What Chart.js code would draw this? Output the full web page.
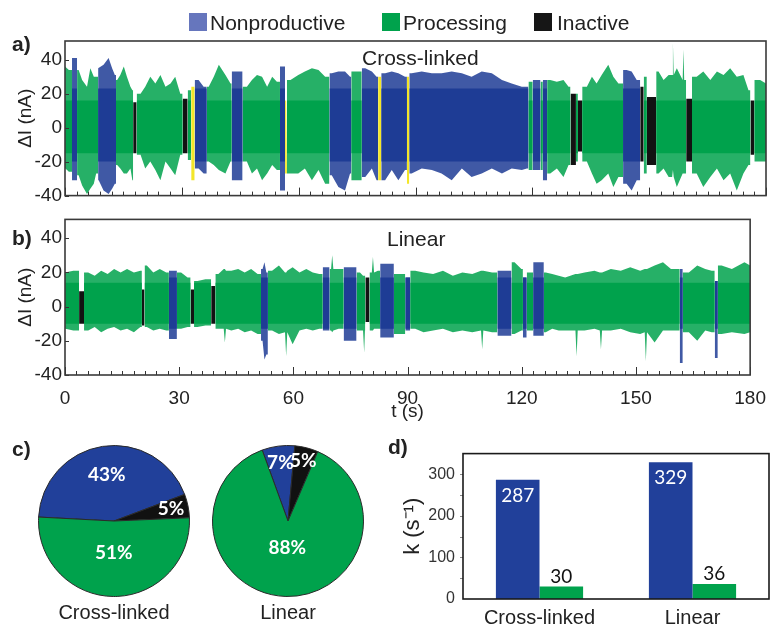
<!DOCTYPE html>
<html>
<head>
<meta charset="utf-8">
<script src="https://cdn.jsdelivr.net/npm/chart.js@4.4.0/dist/chart.umd.min.js"></script>
<style>
html,body{margin:0;padding:0;background:#fff;overflow:hidden;width:778px;height:626px;}
canvas{position:absolute;}
.t{position:absolute;font-family:"Liberation Sans",Arial,sans-serif;color:#222;white-space:nowrap;line-height:1;}
.b{font-weight:bold;}
.sq{position:absolute;width:18px;height:18px;}
</style>
</head>
<body>
<canvas id="cA" width="778" height="210" style="left:0px;top:0px"></canvas>
<canvas id="cB" width="778" height="218" style="left:0px;top:205px"></canvas>
<canvas id="cP1" width="160" height="184" style="left:34px;top:441px"></canvas>
<canvas id="cP2" width="160" height="184" style="left:208px;top:441px"></canvas>
<canvas id="cD" width="388" height="190" style="left:390px;top:436px"></canvas>

<div class="sq" style="left:189px;top:13px;background:#6676bd"></div>
<div class="t" style="left:210px;top:12px;font-size:21px">Nonproductive</div>
<div class="sq" style="left:382px;top:13px;background:#00a24c"></div>
<div class="t" style="left:403px;top:12px;font-size:21px">Processing</div>
<div class="sq" style="left:534px;top:13px;background:#161616"></div>
<div class="t" style="left:557px;top:12px;font-size:21px">Inactive</div>

<div class="t b" style="left:12px;top:33px;font-size:21px">a)</div>
<div class="t b" style="left:12px;top:227px;font-size:21px">b)</div>
<div class="t b" style="left:12px;top:438px;font-size:21px">c)</div>
<div class="t b" style="left:388px;top:436px;font-size:21px">d)</div>
<div class="t" style="left:362px;top:47px;font-size:21px">Cross-linked</div>
<div class="t" style="left:387px;top:228px;font-size:21px">Linear</div>

<script>
// ---------------- DATA ----------------
// state codes: N = Nonproductive, P = Processing, I = Inactive, M = marker (yellow)
// Panel a (Cross-linked) segment boundaries (s) and state of each segment
const aBounds = [0,1.8,3.1,8.5,13.1,17.5,18.4,30.2,31.5,32.4,33.3,36.4,42.8,45.6,55.2,56.5,57.0,67.9,73.5,76.2,80.4,81.2,87.8,88.4,119.0,120.1,122.1,122.7,123.8,129.8,131.2,131.7,132.8,143.3,147.7,148.6,149.4,151.8,159.5,161.0,176.0,177.0,180];
const aStates = ['P','N','P','N','P','I','P','I','P','M','N','P','N','P','N','M','P','N','P','N','M','N','M','N','P','N','P','N','P','I','P','I','P','N','I','P','I','P','I','P','I','P'];
// Panel a signal envelope: time (s), upper and lower extent (nA)
const aEnvT  = [0.1,1.0,2.2,3.5,4.4,5.65,6.5,7.4,8.0,8.65,9.9,11.2,12.1,12.8,13.4,14.2,15.1,15.9,16.8,17.3,17.9,19.4,20.6,21.9,23.2,24.5,25.8,27.1,28.3,29.6,30.8,32.0,32.9,34.3,35.6,36.9,38.2,39.5,41.2,42.5,43.7,45.0,46.7,48.0,49.3,50.6,51.9,53.2,54.4,55.8,56.8,57.9,59.9,61.6,63.4,65.1,66.8,68.5,70.2,71.9,73.2,74.9,77.1,78.8,80.0,80.8,82.2,83.9,85.6,87.3,88.1,89.0,91.6,94.2,96.7,99.3,101.9,104.4,107.0,109.6,112.2,114.7,117.3,118.6,119.5,121.1,122.4,123.3,124.6,126.3,128.0,129.3,130.5,131.45,132.3,134.0,135.3,136.5,137.8,139.5,140.8,142.1,144.2,145.5,146.8,148.1,149.0,150.7,152.4,153.7,155.0,155.9,156.1,156.3,157.1,158.6,158.8,159.0,160.2,162.2,163.9,165.7,167.4,169.1,170.8,172.5,174.2,175.5,176.5,178.5,180];
const aEnvHi = [36,34,41,34,28,24,35,30,30,35,37,41,35,31,28,31,36,30,24,22,15,20,24,30,26,31,24,26,30,20,17,22,24,28,24,24,30,37,31,26,33,33,24,28,31,30,24,30,27,36,16,28,31,33,35,34,30,32,33,33,30,33,35,33,30,30,32,33,32,30,30,32,33,32,32,33,32,30,33,32,28,26,24,24,27,28,27,28,28,27,28,24,20,20,16,24,30,26,31,37,30,26,34,33,28,24,30,18,33,28,31,31,50,31,35,28,46,28,17,30,33,28,33,31,35,30,31,22,16,28,26];
const aEnvLo = [-24,-26,-31,-28,-34,-39,-36,-33,-27,-31,-37,-39,-36,-33,-22,-24,-27,-27,-24,-31,-15,-16,-24,-20,-25,-31,-20,-24,-28,-16,-15,-19,-31,-24,-27,-20,-22,-25,-27,-20,-31,-31,-20,-27,-24,-31,-27,-22,-25,-37,-27,-27,-27,-24,-31,-25,-33,-28,-35,-37,-27,-31,-29,-24,-31,-31,-31,-25,-31,-25,-33,-27,-24,-25,-27,-31,-24,-29,-27,-24,-27,-24,-25,-24,-25,-25,-25,-31,-27,-24,-29,-22,-22,-20,-14,-20,-27,-33,-31,-27,-35,-29,-33,-37,-31,-20,-27,-22,-27,-24,-29,-29,-25,-29,-35,-27,-27,-27,-20,-27,-35,-29,-24,-31,-27,-37,-27,-22,-16,-20,-20];

// Panel b (Linear)
const bBounds = [0,3.7,5.0,20.2,20.9,27.3,29.4,33.0,33.9,38.4,39.5,51.5,53.3,67.7,69.5,73.2,76.6,78.9,80.0,82.8,86.4,89.4,90.7,113.6,117.3,120.3,121.3,123.0,125.8,161.5,162.3,170.7,171.5,180];
const bStates = ['P','I','P','I','P','N','P','I','P','I','P','N','P','N','P','N','P','I','P','N','P','N','P','N','P','N','P','N','P','N','P','N','P'];
const bEnvT  = [0.1,2.2,4.3,6.1,7.8,9.5,11.2,12.9,14.6,16.3,18.1,19.8,20.55,21.5,23.2,24.9,26.6,28.3,30.5,32.2,33.45,34.8,36.9,38.95,40.3,41.7,42.0,42.3,43.7,45.5,47.2,48.9,50.6,51.9,52.4,52.9,54.4,56.2,57.8,58.1,58.4,59.8,61.6,63.4,65.1,66.8,68.6,69.9,70.2,70.5,71.9,74.9,77.5,78.3,78.6,78.8,79.45,80.6,80.9,81.2,82.2,84.6,87.8,90.05,92.0,94.2,96.7,99.3,101.9,104.4,107.0,109.3,109.6,109.9,112.2,115.4,118.1,119.9,120.8,122.1,124.4,126.3,128.0,129.7,131.4,134.1,134.4,134.7,136.5,139.1,140.5,140.8,141.1,143.4,146.0,148.5,151.1,152.3,152.6,152.9,154.9,157.1,159.2,161.9,163.9,166.1,168.2,169.9,171.1,172.5,175.2,178.5,180];
const bEnvHi = [20,21,9,20,18,21,19,22,20,22,20,21,10,24,20,22,20,21,20,17,10,15,16,12,19,22,22,21,21,22,20,22,19,22,26,20,21,24,20,20,21,23,20,22,20,19,23,22,30,22,22,23,20,18,18,18,17,20,29,20,21,25,19,17,21,20,19,21,18,20,19,21,21,21,20,21,26,22,17,20,26,20,19,18,17,19,19,19,20,21,20,20,20,22,21,23,21,22,22,22,24,26,22,22,20,24,22,21,15,24,22,26,24];
const bEnvLo = [-13,-14,-10,-14,-12,-15,-13,-12,-14,-13,-15,-12,-11,-12,-14,-13,-14,-19,-13,-12,-10,-12,-11,-10,-13,-13,-21,-13,-14,-13,-15,-14,-16,-20,-31,-28,-14,-16,-15,-29,-15,-22,-14,-13,-14,-13,-14,-14,-15,-14,-13,-20,-14,-14,-27,-14,-9,-14,-14,-13,-13,-18,-16,-14,-13,-15,-14,-13,-15,-14,-15,-14,-25,-14,-15,-17,-16,-14,-18,-14,-17,-15,-13,-14,-14,-14,-29,-14,-14,-13,-14,-25,-14,-14,-13,-15,-16,-15,-32,-15,-21,-14,-14,-33,-15,-20,-14,-15,-30,-16,-15,-16,-15];

// dense core of the trace per state (nA)
const coreStates = ['N','P'];
const aCoreHi = [23,16], aCoreLo = [-20,-15];
const bCoreHi = [17,14], bCoreLo = [-13,-10];

// y and x ticks of the traces
const traceYTicks = [-40,-20,0,20,40];
const timeTicks = [0,30,60,90,120,150,180];

// Panel c pies (%), clockwise order
const pieLabels = ['Nonproductive','Inactive','Processing'];
const pieCrossLinked = [43,5,51];
const pieLinear = [7,5,88];

// Panel d rates k (s^-1)
const barCategories = ['Cross-linked','Linear'];
const kNonproductive = [287,329];
const kProcessing = [30,36];

// ---------------- STYLE ----------------
const FONT = '"Liberation Sans", Arial, sans-serif';
const COL = {N:'#1e3c95', P:'#00a24c', I:'#121212', M:'#f3e629'};
const FRINGE = {N:'rgba(30,60,149,0.85)', P:'rgba(0,162,76,0.85)', I:'#121212', M:'#f3e629'};
const PIE_COL = {'Nonproductive':'#21409a','Processing':'#00a24c','Inactive':'#111111'};

function buildTrace(bounds, states, envT, envHi, envLo, coreHi, coreLo) {
  const ds = [];
  for (let i = 0; i < states.length; i++) {
    const s0 = bounds[i], s1 = bounds[i+1], st = states[i];
    let idx = [];
    for (let k = 0; k < envT.length; k++) if (envT[k] >= s0 && envT[k] <= s1) idx.push(k);
    if (!idx.length) {
      const mid = (s0 + s1) / 2; let best = 0;
      for (let k = 0; k < envT.length; k++) if (Math.abs(envT[k]-mid) < Math.abs(envT[best]-mid)) best = k;
      idx = [best];
    }
    const first = idx[0], last = idx[idx.length-1];
    const hi = [{x:s0, y:envHi[first]}], lo = [{x:s0, y:envLo[first]}];
    idx.forEach(k => { hi.push({x:envT[k], y:envHi[k]}); lo.push({x:envT[k], y:envLo[k]}); });
    hi.push({x:s1, y:envHi[last]}); lo.push({x:s1, y:envLo[last]});
    const ord = st === 'M' ? 0 : 2;
    ds.push({data: lo, borderWidth:0, pointRadius:0, fill:false, order: ord});
    ds.push({data: hi, borderWidth:0, pointRadius:0, fill:'-1', backgroundColor: FRINGE[st], order: ord});
    const ci = coreStates.indexOf(st);
    if (ci >= 0) {
      const segHi = Math.min(coreHi[ci], ...idx.map(k => envHi[k]));
      const segLo = Math.max(coreLo[ci], ...idx.map(k => envLo[k]));
      ds.push({data:[{x:s0,y:segHi},{x:s1,y:segHi}], borderWidth:0, pointRadius:0,
               fill:{value: segLo}, backgroundColor: COL[st], order: 1});
    }
  }
  return ds;
}

const frameTicks = {
  id: 'frameTicks',
  afterDraw(chart, args, o) {
    const {ctx, chartArea: a, scales} = chart;
    ctx.save();
    ctx.strokeStyle = o.color || '#333';
    ctx.lineWidth = 1;
    ctx.beginPath();
    if (o.xStep) {
      const xs = scales.x;
      const n = Math.round((xs.max - xs.min) / o.xStep);
      for (let j = 0; j <= n; j++) {
        const v = xs.min + j * o.xStep;
        const px = Math.round(xs.getPixelForValue(v)) + 0.5;
        const major = Math.abs(v / o.xMajor - Math.round(v / o.xMajor)) < 1e-6;
        ctx.moveTo(px, a.bottom); ctx.lineTo(px, a.bottom - (major ? o.majorLen : o.minorLen));
      }
    }
    if (o.yTicks) {
      const ys = scales.y;
      o.yTicks.forEach(v => {
        const py = Math.round(ys.getPixelForValue(v)) + 0.5;
        ctx.moveTo(a.left, py); ctx.lineTo(a.left + o.yLen, py);
      });
    }
    ctx.stroke();
    ctx.lineWidth = o.frameWidth || 1.5;
    ctx.strokeStyle = o.frameColor || '#333';
    ctx.strokeRect(a.left, a.top, a.width, a.height);
    ctx.restore();
  }
};

function traceChart(id, datasets, showX, padTop, padBottom) {
  return new Chart(document.getElementById(id), {
    type: 'line',
    data: { datasets },
    plugins: [frameTicks],
    options: {
      responsive: false, animation: false, events: [],
      layout: { padding: { top: padTop, bottom: padBottom, left: 0, right: 12 } },
      plugins: {
        legend: { display: false }, tooltip: { enabled: false },
        frameTicks: { xStep: 3, xMajor: 30, majorLen: 8, minorLen: 4, yTicks: traceYTicks, yLen: 4,
                      color: '#333', frameColor: '#3a3a3a', frameWidth: 1.6 }
      },
      scales: {
        x: {
          type: 'linear', min: 0, max: 180, display: showX,
          grid: { display: false, drawTicks: false }, border: { display: false },
          afterBuildTicks: s => { s.ticks = timeTicks.map(v => ({value: v})); },
          ticks: { font: { family: FONT, size: 19 }, color: '#222', padding: 12, maxRotation: 0, autoSkip: false },
          title: { display: true, text: 't (s)', font: { family: FONT, size: 19 }, color: '#222', padding: { top: 0, bottom: 0 } },
          afterFit: s => { if (showX) s.height = 48; }
        },
        y: {
          min: -40, max: 51,
          grid: { display: false, drawTicks: false }, border: { display: false },
          afterBuildTicks: s => { s.ticks = traceYTicks.map(v => ({value: v})); },
          ticks: { font: { family: FONT, size: 19 }, color: '#222', padding: 3 },
          title: { display: true, text: 'ΔI (nA)', font: { family: FONT, size: 19 }, color: '#222', padding: { top: 14, bottom: 0 } },
          afterFit: s => { s.width = 65; }
        }
      }
    }
  });
}

traceChart('cA', buildTrace(aBounds, aStates, aEnvT, aEnvHi, aEnvLo, aCoreHi, aCoreLo), false, 41, 9);
traceChart('cB', buildTrace(bBounds, bStates, bEnvT, bEnvHi, bEnvLo, bCoreHi, bCoreLo), true, 10, 0);

// ---- pies ----
const pieLabelPlugin = {
  id: 'pieLabels',
  afterDatasetsDraw(chart, args, o) {
    const meta = chart.getDatasetMeta(0), ds = chart.data.datasets[0], ctx = chart.ctx;
    ctx.save();
    ctx.font = 'bold 19px Lato, "Open Sans", sans-serif';
    ctx.fillStyle = '#fff'; ctx.textAlign = 'center'; ctx.textBaseline = 'middle';
    meta.data.forEach((arc, i) => {
      const p = arc.getProps(['x','y','startAngle','endAngle','outerRadius'], true);
      const ang = (p.startAngle + p.endAngle) / 2, r = p.outerRadius * o.radius[i];
      ctx.fillText(ds.data[i] + '%', p.x + Math.cos(ang) * r, p.y + Math.sin(ang) * r);
    });
    ctx.restore();
  }
};
function pieChart(id, values, caption, rotation, radius) {
  return new Chart(document.getElementById(id), {
    type: 'pie',
    data: { labels: pieLabels, datasets: [{ data: values, backgroundColor: pieLabels.map(l => PIE_COL[l]),
            borderColor: '#2a2a2a', borderWidth: 1 }] },
    plugins: [pieLabelPlugin],
    options: {
      responsive: false, animation: false, events: [], rotation,
      layout: { padding: { top: 4, left: 4, right: 4, bottom: 0 } },
      plugins: {
        legend: { display: false }, tooltip: { enabled: false },
        title: { display: true, position: 'bottom', text: caption, color: '#222',
                 font: { family: FONT, size: 20, weight: 'normal' }, padding: { top: 4, bottom: 0 } },
        pieLabels: { radius }
      }
    }
  });
}
pieChart('cP1', pieCrossLinked, 'Cross-linked', -87, [0.62, 0.77, 0.42]);
pieChart('cP2', pieLinear, 'Linear', -20, [0.78, 0.82, 0.36]);

// ---- bars ----
const barLabelPlugin = {
  id: 'barLabels',
  afterDatasetsDraw(chart) {
    const ctx = chart.ctx;
    ctx.save();
    ctx.font = '19px Lato, "Open Sans", sans-serif';
    ctx.textAlign = 'center'; ctx.textBaseline = 'middle';
    chart.data.datasets.forEach((ds, di) => {
      chart.getDatasetMeta(di).data.forEach((bar, i) => {
        if (di === 0) { ctx.fillStyle = '#fff'; ctx.fillText(String(ds.data[i]), bar.x, bar.y + 16); }
        else { ctx.fillStyle = '#111'; ctx.fillText(String(ds.data[i]), bar.x, bar.y - 10); }
      });
    });
    ctx.restore();
  }
};
const barTicks = {
  id: 'barTicks',
  afterDraw(chart) {
    const {ctx, chartArea: a, scales} = chart;
    ctx.save();
    ctx.strokeStyle = '#888'; ctx.lineWidth = 1; ctx.beginPath();
    for (let v = 50; v < 350; v += 50) {
      const py = Math.round(scales.y.getPixelForValue(v)) + 0.5;
      ctx.moveTo(a.left - 3, py); ctx.lineTo(a.left, py);
    }
    ctx.stroke();
    ctx.strokeStyle = '#1a1a1a'; ctx.lineWidth = 1.6;
    ctx.strokeRect(a.left, a.top, a.width, a.height);
    ctx.restore();
  }
};
new Chart(document.getElementById('cD'), {
  type: 'bar',
  data: { labels: barCategories, datasets: [
    { label: 'Nonproductive', data: kNonproductive, backgroundColor: '#21409a', categoryPercentage: 0.57, barPercentage: 1 },
    { label: 'Processing', data: kProcessing, backgroundColor: '#00a24c', categoryPercentage: 0.57, barPercentage: 1 }
  ] },
  plugins: [barLabelPlugin, barTicks],
  options: {
    responsive: false, animation: false, events: [],
    layout: { padding: { top: 14, right: 9, left: 0, bottom: 0 } },
    plugins: { legend: { display: false }, tooltip: { enabled: false } },
    scales: {
      x: { grid: { display: false, drawTicks: false }, border: { display: false },
           ticks: { font: { family: FONT, size: 20 }, color: '#222', padding: 7 },
           afterFit: s => { s.height = 27; } },
      y: { min: 0, max: 350, grid: { display: false, drawTicks: false }, border: { display: false },
           ticks: { stepSize: 100, includeBounds: false, font: { family: FONT, size: 16 }, color: '#333', padding: 8 },
           title: { display: true, text: 'k (s⁻¹)', font: { family: FONT, size: 22 }, color: '#222', padding: { top: 10, bottom: 0 } },
           afterFit: s => { s.width = 73; } }
    }
  }
});
</script>
</body>
</html>
